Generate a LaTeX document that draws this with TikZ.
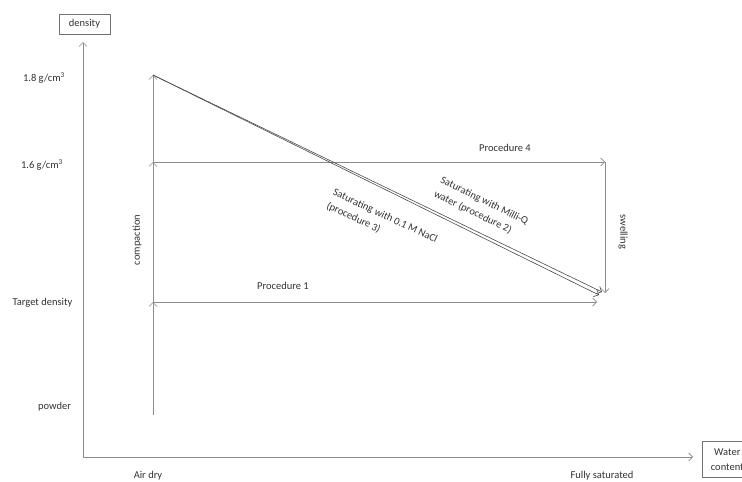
\documentclass[tikz,border=0pt]{standalone}
\usepackage{fontspec}
\setmainfont{Carlito}
\usetikzlibrary{arrows.meta}
\begin{document}
\begin{tikzpicture}[x=1pt,y=-1pt,
  font=\fontsize{10.5}{15}\selectfont,
  txt/.style={text=black!80, inner sep=0pt},
  ln/.style={draw=black!45, line width=0.7pt},
  arr/.style={ln, -{Straight Barb[length=4pt,width=8pt]}},
  darr/.style={draw=black!70, line width=0.6pt, -{Straight Barb[length=4pt,width=8pt]}},
  box/.style={draw=black!55, line width=0.6pt, text=black!80, align=center}]
\useasboundingbox (0,0) rectangle (742,482);
\fill[white] (0,0) rectangle (742,482);
% axis boxes
\node[box, minimum width=51pt, minimum height=20pt, inner sep=0pt] (dens) at (84.5,24) {density};
\node[box, anchor=north west, minimum width=50pt, minimum height=36pt, inner sep=2pt] (wc) at (702,441) {Water\\content};
% axes
\coordinate (O) at (83,457);
\coordinate (ytip) at (83,42);
\coordinate (xtip) at (693,457);
\draw[arr] (O) -- (ytip);
\draw[arr] (O) -- (xtip);
% key points
\coordinate (c0) at (153,415);
\coordinate (c1) at (153,302);
\coordinate (c2) at (153,162);
\coordinate (c3) at (153,75);
\coordinate (p1) at (597,302);
\coordinate (p4) at (605,162);
\coordinate (sw) at (605,293);
\coordinate (d2) at (602,292);
\coordinate (d3) at (599,295);
% compaction
\draw[arr] (c0) -- (c1);
\draw[arr] (c1) -- (c2);
\draw[arr] (c2) -- (c3);
% procedures
\draw[arr] (c1) -- (p1);
\draw[arr] (c2) -- (p4);
\draw[arr] (p4) -- (sw);
\draw[darr] (c3) -- (d2);
\draw[darr] (c3) -- (d3);
% y labels
\node[txt] (l18) at (44,78) {1.8 g/cm\textsuperscript{3}};
\node[txt] (l16) at (42,165) {1.6 g/cm\textsuperscript{3}};
\node[txt] (ltd) at (42.5,303) {Target density};
\node[txt] (lpw) at (54.5,407) {powder};
% x labels
\node[txt] (lad) at (148,476) {Air dry};
\node[txt] (lfs) at (602,476) {Fully saturated};
% process labels
\node[txt] (lp1) at (283,286) {Procedure 1};
\node[txt] (lp4) at (505,148) {Procedure 4};
\node[txt, rotate=90] (lco) at (137,240) {compaction};
\node[txt, rotate=-90] (lsw) at (623,232) {swelling};
\node[txt, rotate=-26, align=left] (lmq) at (481,208) {Saturating with Milli-Q\\water (procedure 2)};
\node[txt, rotate=-25, align=left] (lna) at (382,223) {Saturating with 0.1 M NaCl\\(procedure 3)};
\end{tikzpicture}
\end{document}
